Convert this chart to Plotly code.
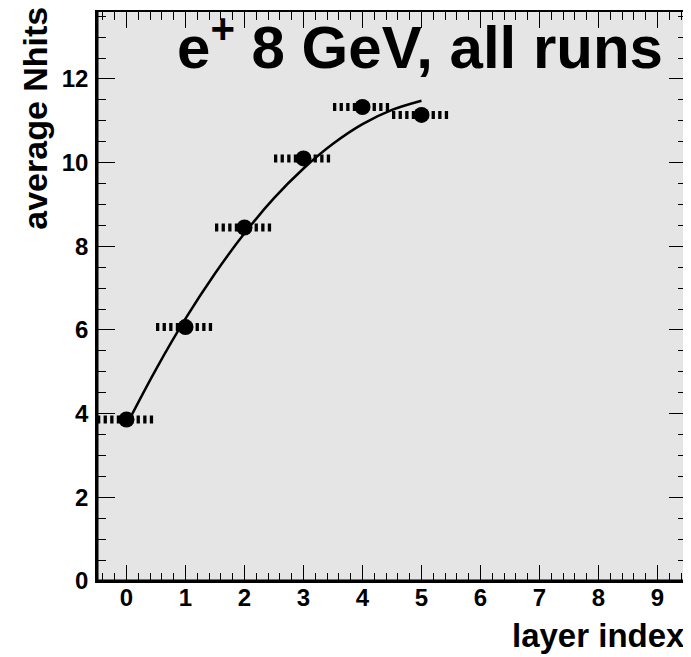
import plotly.graph_objects as go

# measured points (one per layer), bin half-width for the horizontal bars
layer = [0, 1, 2, 3, 4, 5]
nhits = [3.86, 6.07, 8.45, 10.10, 11.33, 11.14]
half_width = 0.5

# fitted curve
fit_x = [0, 0.5, 1, 1.5, 2, 2.5, 3, 3.5, 4, 4.5, 5]
fit_y = [3.73, 5.06, 6.27, 7.35, 8.31, 9.15, 9.86, 10.45, 10.92, 11.26, 11.48]

x_ticks = list(range(10))
y_ticks = [0, 2, 4, 6, 8, 10, 12]

FONT = "Liberation Sans, Arial, sans-serif"

# dashed horizontal "error bars"
bar_x, bar_y = [], []
for x, y in zip(layer, nhits):
    bar_x += [x - half_width, x + half_width, None]
    bar_y += [y, y, None]

fig = go.Figure()
fig.add_trace(go.Scatter(x=bar_x, y=bar_y, mode="lines",
                         line=dict(color="black", width=8, dash="3.3px,3.3px"),
                         hoverinfo="skip"))
fig.add_trace(go.Scatter(x=layer, y=nhits, mode="markers",
                         marker=dict(color="black", size=16, symbol="circle")))
fig.add_trace(go.Scatter(x=fit_x, y=fit_y, mode="lines", line_shape="spline",
                         line=dict(color="black", width=2.5)))

axis_common = dict(showgrid=False, zeroline=False, showline=True, linecolor="black",
                   linewidth=1.5, mirror="allticks", ticks="inside", tickcolor="black",
                   tickwidth=1, tickfont=dict(size=24, color="black", family=FONT, weight="bold"))

# page body has an 8px margin, so the figure is 8px smaller than the window
fig.update_layout(
    width=683, height=649,
    margin=dict(l=89, r=3, t=2, b=76),
    paper_bgcolor="white", plot_bgcolor="#e5e5e5",
    font=dict(family=FONT, color="black", weight="bold"),
    showlegend=False,
    xaxis=dict(range=[-0.5, 9.5], tickvals=x_ticks, ticklen=16, ticklabelstandoff=-6,
               minor=dict(dtick=0.2, tick0=0, ticklen=8, ticks="inside", tickcolor="black", tickwidth=1),
               **axis_common),
    yaxis=dict(range=[0, 13.6], tickvals=y_ticks, ticklen=18, ticklabelstandoff=2,
               minor=dict(dtick=0.5, tick0=0, ticklen=9, ticks="inside", tickcolor="black", tickwidth=1),
               **axis_common),
    shapes=[
        dict(type="line", xref="paper", yref="paper", x0=0, x1=0, y0=0, y1=1,
             line=dict(color="black", width=3)),
        dict(type="line", xref="paper", yref="paper", x0=0, x1=1, y0=0, y1=0,
             line=dict(color="black", width=3)),
    ],
    annotations=[
        dict(text="e<sup>+</sup> 8 GeV, all runs", xref="paper", yref="paper",
             x=0.133, y=0.945, xanchor="left", yanchor="middle", showarrow=False,
             font=dict(size=60, family=FONT, weight="bold", color="black")),
        dict(text="average Nhits", xref="paper", yref="paper", textangle=-90,
             x=-0.105, y=1.012, xanchor="center", yanchor="top", showarrow=False,
             font=dict(size=34, family=FONT, weight="bold", color="black")),
        dict(text="layer index", xref="paper", yref="paper",
             x=1.0, y=-0.096, xanchor="right", yanchor="middle", showarrow=False,
             font=dict(size=33, family=FONT, weight="bold", color="black")),
    ],
)

fig.write_html("out.html")
